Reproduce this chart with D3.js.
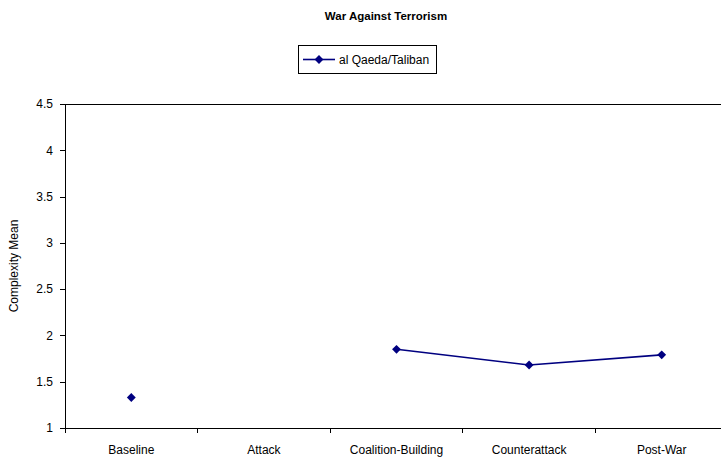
<!DOCTYPE html>
<html>
<head>
<meta charset="utf-8">
<script src="https://cdn.jsdelivr.net/npm/d3@7"></script>
<style>
  body { margin: 0; background: #fff; }
  svg text { font-family: Arial, "Liberation Sans", sans-serif; fill: #000; }
</style>
</head>
<body>
<svg id="chart" width="721" height="461"></svg>
<script>
// values
const categories = ["Baseline", "Attack", "Coalition-Building", "Counterattack", "Post-War"];
const complexityMean = [1.33, null, 1.85, 1.68, 1.79];
const yTicks = [1, 1.5, 2, 2.5, 3, 3.5, 4, 4.5];
const seriesName = "al Qaeda/Taliban";
const chartTitle = "War Against Terrorism";
const yTitle = "Complexity Mean";

{
const svg = d3.select("#chart");
const navy = "#000080";

const plot = {left: 65, top: 104, right: 728, bottom: 428};

const x = d3.scaleBand()
    .domain(categories)
    .range([plot.left, plot.right])
    .padding(0);

// boundaries between the categories, for the tick marks
const xEdge = d3.scaleLinear()
    .domain([0, categories.length])
    .range([plot.left, plot.right]);

const y = d3.scaleLinear()
    .domain([1, 4.5])
    .range([plot.bottom, plot.top]);

// frame of the plot area (right side falls outside the picture)
svg.append("rect")
    .attr("x", plot.left)
    .attr("y", plot.top)
    .attr("width", plot.right - plot.left)
    .attr("height", plot.bottom - plot.top)
    .attr("fill", "none")
    .attr("stroke", "#000")
    .attr("stroke-width", 1)
    .attr("shape-rendering", "crispEdges");

// y axis
const yAxis = svg.append("g")
    .attr("transform", `translate(${plot.left},0)`)
    .call(d3.axisLeft(y).tickValues(yTicks).tickSize(5).tickPadding(7).tickFormat(d3.format("")));
yAxis.select(".domain").attr("stroke", "#000").attr("shape-rendering", "crispEdges");
yAxis.selectAll(".tick line").attr("stroke", "#000").attr("shape-rendering", "crispEdges");
yAxis.selectAll("text")
    .attr("font-size", 12)
    .attr("font-family", "Arial, 'Liberation Sans', sans-serif");

// x axis: labels centred in each category, ticks on boundaries
const xAxis = svg.append("g")
    .attr("transform", `translate(0,${plot.bottom})`)
    .call(d3.axisBottom(x).tickSize(0).tickPadding(17));
xAxis.select(".domain").attr("stroke", "#000").attr("shape-rendering", "crispEdges");
xAxis.selectAll("text")
    .attr("font-size", 12)
    .attr("font-family", "Arial, 'Liberation Sans', sans-serif");

svg.append("g")
    .selectAll("line")
    .data(d3.range(categories.length + 1))
    .enter().append("line")
    .attr("x1", d => xEdge(d))
    .attr("x2", d => xEdge(d))
    .attr("y1", plot.bottom)
    .attr("y2", plot.bottom + 5)
    .attr("stroke", "#000")
    .attr("shape-rendering", "crispEdges");

// y axis title
svg.append("text")
    .attr("transform", `translate(18,${(plot.top + plot.bottom) / 2}) rotate(-90)`)
    .attr("text-anchor", "middle")
    .attr("font-size", 12)
    .text(yTitle);

// chart title
svg.append("text")
    .attr("x", 386)
    .attr("y", 20)
    .attr("text-anchor", "middle")
    .attr("font-size", 11.5)
    .attr("font-weight", "bold")
    .text(chartTitle);

// series
const pts = categories.map((c, i) => ({cat: c, v: complexityMean[i]}));

const line = d3.line()
    .defined(d => d.v != null)
    .x(d => x(d.cat) + x.bandwidth() / 2)
    .y(d => y(d.v));

svg.append("path")
    .datum(pts)
    .attr("d", line)
    .attr("fill", "none")
    .attr("stroke", navy)
    .attr("stroke-width", 1.6);

const diamond = d3.symbol().type(d3.symbolDiamond2).size(50);

svg.append("g")
    .selectAll("path")
    .data(pts.filter(d => d.v != null))
    .enter().append("path")
    .attr("d", diamond)
    .attr("transform", d => `translate(${x(d.cat) + x.bandwidth() / 2},${y(d.v)})`)
    .attr("fill", navy);

// legend
const leg = svg.append("g").attr("transform", "translate(298,45)");
leg.append("rect")
    .attr("x", 0.5).attr("y", 0.5)
    .attr("width", 138).attr("height", 28)
    .attr("fill", "#fff")
    .attr("stroke", "#000");
leg.append("line")
    .attr("x1", 5).attr("x2", 37)
    .attr("y1", 14.5).attr("y2", 14.5)
    .attr("stroke", navy)
    .attr("stroke-width", 1.6);
leg.append("path")
    .attr("d", diamond)
    .attr("transform", "translate(21,14.5)")
    .attr("fill", navy);
leg.append("text")
    .attr("x", 41)
    .attr("y", 19)
    .attr("font-size", 12)
    .text(seriesName);
}
</script>
</body>
</html>
